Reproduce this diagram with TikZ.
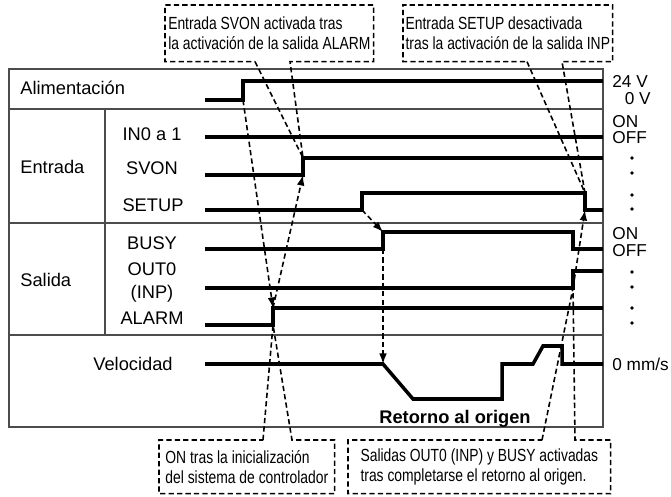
\documentclass[tikz,border=0pt]{standalone}
\usepackage{fontspec}
\setmainfont{Liberation Sans}
\newfontfamily\narrowfont[FakeStretch=0.79]{Liberation Sans}
\usetikzlibrary{arrows.meta, calc}

\begin{document}
\begin{tikzpicture}[x=0.02cm, y=-0.02cm,
  sig/.style={line width=2pt, line join=miter},
  grid/.style={line width=0.7pt, draw=black!70},
  lbl/.style={font=\fontsize{10.4}{12}\selectfont, inner sep=0pt,
    text height=7.5pt, text depth=0pt},
  level/.style={lbl, font=\fontsize{9.8}{11}\selectfont,
    text height=7pt},
  note/.style={font=\narrowfont\fontsize{10}{11.6}\selectfont,
    align=left, inner sep=0pt, anchor=north west},
  callout/.style={line width=0.9pt, dash pattern=on 3pt off 1.8pt},
  cause/.style={callout, -{Latex[length=6pt,width=4.4pt]}}
]
\useasboundingbox (0,0) rectangle (671,496);

% Table frame
\draw[grid] (9,69) rectangle (603,427);
\draw[grid] (9,109) -- (603,109);
\draw[grid] (9,223) -- (603,223);
\draw[grid] (9,335) -- (603,335);
\draw[grid] (105,109) -- (105,335);

% Row labels
\node[lbl, anchor=west] (lpwr) at (20,88) {Alimentación};
\node[lbl, anchor=west] (lin) at (20,167) {Entrada};
\node[lbl, anchor=west] (lout) at (20,280) {Salida};
\node[lbl, anchor=east] (lvel) at (173,364) {Velocidad};
\node[lbl] (lin0) at (152,134) {IN0 a 1};
\node[lbl] (lsvon) at (152,168) {SVON};
\node[lbl] (lsetup) at (153,205) {SETUP};
\node[lbl] (lbusy) at (152,243) {BUSY};
\node[lbl] (lout0) at (152,269) {OUT0};
\node[lbl] (linp) at (152,292) {(INP)};
\node[lbl] (lalarm) at (152,318) {ALARM};

% Levels on the right
\node[level, anchor=west] (v24) at (612,81) {24 V};
\node[level, anchor=east] (v0) at (651,98) {0 V};
\node[level, anchor=west] (on1) at (612,121) {ON};
\node[level, anchor=west] (off1) at (612,137) {OFF};
\node[level, anchor=west] (on2) at (612,233) {ON};
\node[level, anchor=west] (off2) at (612,250) {OFF};
\node[level, anchor=west] (v0mm) at (612,364) {0 mm/s};
\foreach \yy in {158,173,195,209,272,287,308,323}
  \fill (632,\yy) circle (1.1pt);

% Edge points
\coordinate (pwrLo) at (243,100);
\coordinate (pwrHi) at (243,81);
\coordinate (svonLo) at (303,175);
\coordinate (svonHi) at (303,158);
\coordinate (setupLo) at (362,210);
\coordinate (setupHi) at (362,193);
\coordinate (setupOffHi) at (585,193);
\coordinate (setupOffLo) at (585,210);
\coordinate (busyLo) at (383,249);
\coordinate (busyHi) at (383,232);
\coordinate (outLo) at (573,288);
\coordinate (outHi) at (573,271);
\coordinate (almLo) at (273,325);
\coordinate (almHi) at (273,308);
\coordinate (velStart) at (383,364);

% Signals
\draw[sig] (205,100) -- (pwrLo) -- (pwrHi) -- (603,81);
\draw[sig] (205,137) -- (603,137);
\draw[sig] (205,175) -- (svonLo) -- (svonHi) -- (603,158);
\draw[sig] (205,210) -- (setupLo) -- (setupHi) -- (setupOffHi)
  -- (setupOffLo) -- (603,210);
\draw[sig] (205,249) -- (busyLo) -- (busyHi) -- (573,232)
  -- (573,249) -- (603,249);
\draw[sig] (205,288) -- (outLo) -- (outHi) -- (603,271);
\draw[sig] (205,325) -- (almLo) -- (almHi) -- (603,308);
\draw[sig] (205,364) -- (velStart) -- (413,399) -- (502,399)
  -- (502,364) -- (533,364) -- (543,346) -- (562,346)
  -- (562,364) -- (603,364);

\node[lbl, font=\fontsize{10.4}{12}\selectfont\bfseries] (home)
  at (455,417) {Retorno al origen};

% Cause and effect
\draw[cause] (pwrLo) -- (almHi);
\draw[cause] (almHi) -- (svonLo);
\draw[cause] (setupLo) -- (busyHi);
\draw[cause] (busyLo) -- (velStart);
\draw[cause] (outLo) -- (setupOffLo);

% Callouts
\node[note, minimum width=4.16cm, minimum height=1.12cm] (nsvon)
  at (165,5)
  {Entrada SVON activada tras\\la activación de la salida ALARM};
\draw[callout] ($(nsvon.south west)+(90,0)$) -- (svonHi)
  -- ($(nsvon.south west)+(125,0)$) -- (nsvon.south east)
  -- (nsvon.north east) -- (nsvon.north west) -- (nsvon.south west)
  -- cycle;

\node[note, minimum width=4.18cm, minimum height=1.12cm] (nsetup)
  at (403,5)
  {Entrada SETUP desactivada\\tras la activación de la salida INP};
\draw[callout] ($(nsetup.south west)+(124,0)$) -- (setupOffHi)
  -- ($(nsetup.south west)+(159,0)$) -- (nsetup.south east)
  -- (nsetup.north east) -- (nsetup.north west) -- (nsetup.south west)
  -- cycle;

\node[note, minimum width=3.5cm, minimum height=1.06cm] (nalarm)
  at (159,440)
  {ON tras la inicialización\\del sistema de controlador};
\draw[callout] ($(nalarm.north west)+(104,0)$) -- (almLo)
  -- ($(nalarm.north west)+(133,0)$) -- (nalarm.north east)
  -- (nalarm.south east) -- (nalarm.south west) -- (nalarm.north west)
  -- cycle;

\node[note, minimum width=5.24cm, minimum height=1.06cm] (nhome)
  at (348,440)
  {Salidas OUT0 (INP) y BUSY activadas\\tras completarse el retorno al origen.};
\draw[callout] ($(nhome.north west)+(194,0)$) -- (outLo)
  -- ($(nhome.north west)+(227,0)$) -- (nhome.north east)
  -- (nhome.south east) -- (nhome.south west) -- (nhome.north west)
  -- cycle;
\end{tikzpicture}
\end{document}
